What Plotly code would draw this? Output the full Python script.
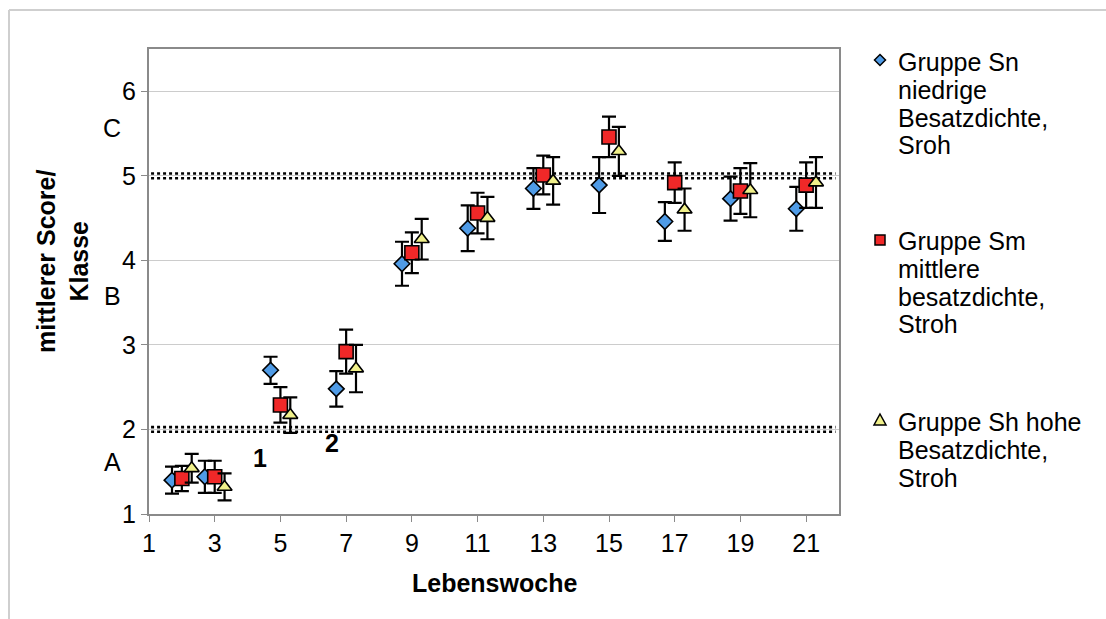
import plotly.graph_objects as go

# ---------------- data ----------------
weeks = [2, 3, 5, 7, 9, 11, 13, 15, 17, 19, 21]
sn_mean = [1.40, 1.44, 2.70, 2.48, 3.96, 4.38, 4.85, 4.89, 4.46, 4.73, 4.61]
sn_err = [0.16, 0.19, 0.16, 0.21, 0.26, 0.27, 0.24, 0.33, 0.23, 0.26, 0.26]
sm_mean = [1.42, 1.44, 2.29, 2.92, 4.09, 4.56, 5.01, 5.46, 4.92, 4.82, 4.89]
sm_err = [0.15, 0.19, 0.21, 0.26, 0.24, 0.24, 0.23, 0.24, 0.24, 0.27, 0.27]
sh_mean = [1.54, 1.32, 2.17, 2.72, 4.25, 4.50, 4.94, 5.29, 4.60, 4.83, 4.92]
sh_err = [0.17, 0.16, 0.21, 0.28, 0.24, 0.25, 0.28, 0.29, 0.25, 0.32, 0.30]

x_ticks = [1, 3, 5, 7, 9, 11, 13, 15, 17, 19, 21]
y_ticks = [1, 2, 3, 4, 5, 6]
class_bounds = [2, 5]
class_labels = ["A", "B", "C"]
class_label_y = [1.62, 3.58, 5.57]
phase_labels = ["1", "2"]
phase_label_x = [4.38, 6.58]
phase_label_y = [1.66, 1.84]

legend_lines = [
    ["Gruppe Sn", "niedrige", "Besatzdichte,", "Sroh"],
    ["Gruppe Sm", "mittlere", "besatzdichte,", "Stroh"],
    ["Gruppe Sh hohe", "Besatzdichte,", "Stroh"],
]

# ---------------- layout geometry (pixels) ----------------
W, H = 1106, 619
PL, PR, PT, PB = 149, 839, 49, 514
FONT = "Liberation Sans, Arial, sans-serif"
FS = 25

def px_x(px):
    return (px - PL) / (PR - PL)

def px_y(py):
    return (PB - py) / (PB - PT)

offsets = [-0.3, 0.0, 0.3]
series = [
    ("Sn", sn_mean, sn_err, "diamond", "#4f9be6", 12),
    ("Sm", sm_mean, sm_err, "square", "#f02828", 14),
    ("Sh", sh_mean, sh_err, "triangle-up", "#f0f08a", 13),
]

fig = go.Figure()

for (name, ys, es, sym, col, size), off in zip(series, offsets):
    fig.add_trace(go.Scatter(
        x=[w + off for w in weeks], y=ys, mode="markers", name=name,
        showlegend=False,
        marker=dict(symbol=sym, size=size, color=col,
                    line=dict(color="black", width=1.6)),
        error_y=dict(type="data", array=es, visible=True,
                     color="black", thickness=2.2, width=7),
        cliponaxis=False,
    ))

shapes = []

# legend keys drawn as paper-space shapes
def path_from_px(pts):
    s = ""
    for i, (px, py) in enumerate(pts):
        s += ("M" if i == 0 else "L") + f"{px_x(px):.5f},{px_y(py):.5f} "
    return s + "Z"

kx = 880
key_y = [60, 240, 420]
key_paths = [
    [(kx, key_y[0] - 5.5), (kx + 5.5, key_y[0]), (kx, key_y[0] + 5.5), (kx - 5.5, key_y[0])],
    [(kx - 5, key_y[1] - 5), (kx + 5, key_y[1] - 5), (kx + 5, key_y[1] + 5), (kx - 5, key_y[1] + 5)],
    [(kx, key_y[2] - 6), (kx + 6, key_y[2] + 5), (kx - 6, key_y[2] + 5)],
]
for (name, ys, es, sym, col, size), pts in zip(series, key_paths):
    shapes.append(dict(type="path", xref="paper", yref="paper",
                       path=path_from_px(pts), fillcolor=col,
                       line=dict(color="black", width=1.5), layer="above"))

# legend text
legend_start = [62, 241, 422]
line_gap = 27.8
annotations = []
for lines, y0 in zip(legend_lines, legend_start):
    for i, t in enumerate(lines):
        annotations.append(dict(
            text=t, xref="paper", yref="paper",
            x=px_x(896), y=px_y(y0 + i * line_gap),
            xanchor="left", yanchor="middle", showarrow=False,
            font=dict(family=FONT, size=FS, color="black"),
        ))

# class letters
for t, yv in zip(class_labels, class_label_y):
    annotations.append(dict(
        text=t, xref="paper", yref="y", x=px_x(112), y=yv,
        xanchor="center", yanchor="middle", showarrow=False,
        font=dict(family=FONT, size=FS, color="black"),
    ))

# phase numbers
for t, xv, yv in zip(phase_labels, phase_label_x, phase_label_y):
    annotations.append(dict(
        text="<b>" + t + "</b>", xref="x", yref="y", x=xv, y=yv,
        xanchor="center", yanchor="middle", showarrow=False,
        font=dict(family=FONT, size=FS, color="black"),
    ))

# axis titles
annotations.append(dict(
    text="<b>mittlerer Score/<br>Klasse</b>", xref="paper", yref="paper",
    x=px_x(62), y=px_y(262), textangle=-90, showarrow=False,
    xanchor="center", yanchor="middle",
    font=dict(family=FONT, size=FS, color="black"),
))
annotations.append(dict(
    text="<b>Lebenswoche</b>", xref="paper", yref="paper",
    x=px_x(494), y=px_y(583), showarrow=False,
    xanchor="center", yanchor="middle",
    font=dict(family=FONT, size=FS, color="black"),
))

# double dotted class boundaries
for b in class_bounds:
    for d in (-0.028, 0.028):
        shapes.append(dict(
            type="line", xref="paper", yref="y", x0=0.003, x1=0.995,
            y0=b + d, y1=b + d, line=dict(color="black", width=2.6, dash="dot"),
            layer="below",
        ))
# outer light frame
shapes.append(dict(type="line", xref="paper", yref="paper",
                   x0=px_x(9), x1=px_x(W + 5), y0=px_y(10), y1=px_y(10),
                   line=dict(color="#cfcfcf", width=2)))
shapes.append(dict(type="line", xref="paper", yref="paper",
                   x0=px_x(9), x1=px_x(9), y0=px_y(10), y1=px_y(H + 5),
                   line=dict(color="#cfcfcf", width=2)))

fig.update_layout(
    width=W, height=H,
    margin=dict(l=PL, r=W - PR, t=PT, b=H - PB, pad=0),
    paper_bgcolor="white", plot_bgcolor="white",
    font=dict(family=FONT, size=FS, color="black"),
    showlegend=False,
    xaxis=dict(range=[1, 22], tickvals=x_ticks, ticktext=[str(v) for v in x_ticks],
               showgrid=False, zeroline=False,
               showline=True, mirror=True, linecolor="#8a8a8a", linewidth=2,
               ticks="outside", ticklen=6, tickcolor="#8a8a8a", tickwidth=1,
               tickfont=dict(family=FONT, size=FS, color="black")),
    yaxis=dict(range=[1, 6.5], tickvals=y_ticks, ticktext=[str(v) for v in y_ticks],
               showgrid=True, gridcolor="#cccccc", gridwidth=1, zeroline=False,
               showline=True, mirror=True, linecolor="#8a8a8a", linewidth=2,
               ticks="outside", ticklen=6, tickcolor="#8a8a8a", tickwidth=1,
               tickfont=dict(family=FONT, size=FS, color="black")),
    annotations=annotations,
    shapes=shapes,
)

fig.write_html("out.html")
